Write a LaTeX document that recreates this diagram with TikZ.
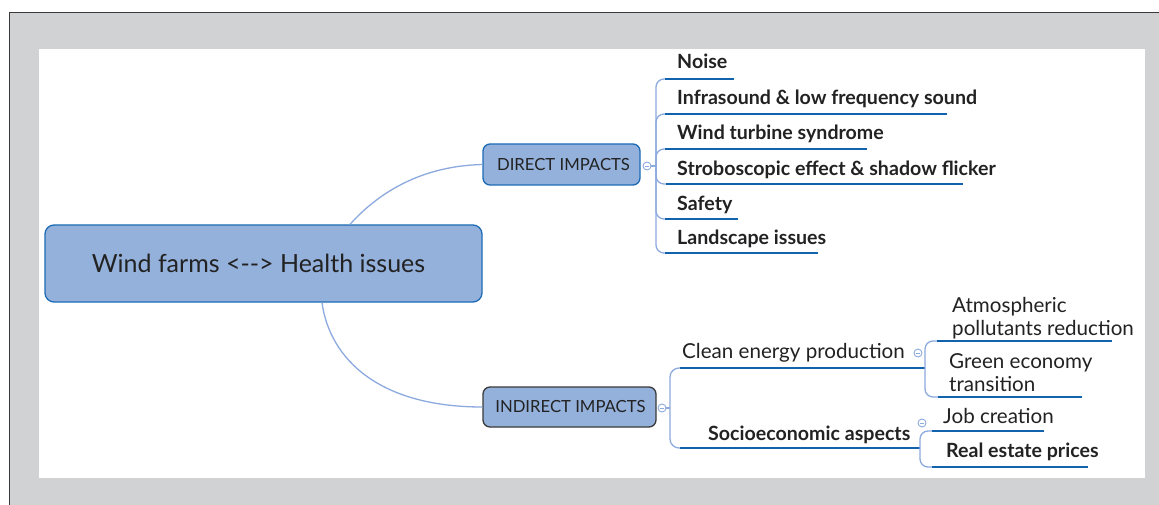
\documentclass[tikz,border=0pt]{standalone}
\usepackage{fontspec}
\setmainfont{Lato}
\usetikzlibrary{calc}
\definecolor{bggray}{HTML}{D1D2D4}
\definecolor{framedark}{HTML}{3A3A3A}
\definecolor{nodefill}{HTML}{94B1DC}
\definecolor{nodeblue}{HTML}{1D6BB5}
\definecolor{conncol}{HTML}{8DAADF}
\definecolor{ulcol}{HTML}{1262AE}
\definecolor{txt}{HTML}{222222}
\tikzset{
  topic/.style={draw=nodeblue, line width=1.3pt, fill=nodefill, rounded corners=7pt, text=txt, inner sep=0pt},
  conn/.style={draw=conncol, line width=1.3pt},
  ul/.style={draw=ulcol, line width=2.8pt},
  lbl/.style={anchor=base west, inner sep=0pt, text=txt, font=\fontsize{20.6}{23}\selectfont},
  blbl/.style={lbl, font=\fontsize{19.6}{23}\selectfont\bfseries},
  tog/.style={circle, draw=conncol, line width=0.9pt, fill=white, minimum size=8pt, inner sep=0pt,
    path picture={\draw[conncol, line width=0.8pt] ([xshift=-2pt]path picture bounding box.center) -- ([xshift=2pt]path picture bounding box.center);}},
}
\begin{document}
\begin{tikzpicture}[x=1pt,y=-1pt]
\useasboundingbox (0,0) rectangle (1159,505);
% frame
\fill[bggray] (9,12) rectangle (1159,505);
\draw[framedark, line width=1.6pt] (9.5,505) -- (9.5,12.5) -- (1159,12.5);
\fill[white] (39,49) rectangle (1145,478);

% main topics
\node[topic, rounded corners=9pt, minimum width=437pt, minimum height=77pt, font=\fontsize{25}{28}\selectfont] (main) at (263.5,263.5) {\raisebox{-3pt}{\hspace*{-10pt}Wind farms <-{}-> Health issues}};
\node[topic, minimum width=157pt, minimum height=41pt, font=\fontsize{16.7}{18}\selectfont] (direct) at (561.5,164.5) {\hspace*{4pt}DIRECT IMPACTS};
\node[topic, draw=framedark, minimum width=173pt, minimum height=40pt, font=\fontsize{16.7}{18}\selectfont] (indirect) at (569.5,407) {\hspace*{2pt}INDIRECT IMPACTS};

% connectors from main
\draw[conn] ([xshift=86.5pt]main.north) .. controls (380,191) and (423,166) .. (direct.west);
\draw[conn] ([xshift=58.5pt]main.south) .. controls (330,360) and (380,407) .. (indirect.west);

% toggles
\node[tog] (dtog) at (647,166) {};
\node[tog] (itog) at (662,408) {};
\node[tog] (ctog) at (918,353) {};
\node[tog] (stog) at (922,423) {};

% direct children
\coordinate (dhub) at (656,166);
\draw[conn] (dtog.east) -- (dhub);
\node[blbl] (noise) at (677,69) {Noise};
\node[blbl] (infra) at (677,105) {Infrasound \& low frequency sound};
\node[blbl] (wts) at (677,140) {Wind turbine syndrome};
\node[blbl] (strobo) at (677,175.5) {Stroboscopic effect \& shadow flicker};
\node[blbl] (safety) at (677,210.5) {Safety};
\node[blbl] (land) at (677,244.5) {Landscape issues};
\coordinate (u1a) at (665,79);  \coordinate (u1b) at (734,79);
\coordinate (u2a) at (665,114); \coordinate (u2b) at (947,114);
\coordinate (u3a) at (665,149); \coordinate (u3b) at (867,149);
\coordinate (u4a) at (666,184); \coordinate (u4b) at (963,184);
\coordinate (u5a) at (665,219); \coordinate (u5b) at (738,219);
\coordinate (u6a) at (665,253); \coordinate (u6b) at (818,253);
\foreach \i in {1,...,6}{
  \draw[conn, rounded corners=8pt] (dhub) |- (u\i a);
  \draw[ul] (u\i a) -- (u\i b);
}

% indirect children
\coordinate (ihub) at (670,408);
\draw[conn] (itog.east) -- (ihub);
\node[lbl] (clean) at (682,358) {Clean energy production};
\node[blbl] (socio) at (708,440) {Socioeconomic aspects};
\coordinate (c1a) at (680,368); \coordinate (c1b) at (925,368);
\coordinate (c2a) at (680,448); \coordinate (c2b) at (920,448);
\foreach \i in {1,2}{
  \draw[conn, rounded corners=9pt] (ihub) |- (c\i a);
  \draw[ul] (c\i a) -- (c\i b);
}

% clean energy children
\node[lbl, align=left] (atmo) at (952,335) {Atmospheric\\pollutants reduction};
\node[lbl, align=left] (green) at (949,391) {Green economy\\transition};
\coordinate (a1a) at (937,341); \coordinate (a1b) at (1112,341);
\coordinate (a2a) at (938,397); \coordinate (a2b) at (1082,397);
\foreach \i in {1,2}{
  \draw[conn, rounded corners=8pt] (c1b) |- (a\i a);
  \draw[ul] (a\i a) -- (a\i b);
}

% socioeconomic children
\node[lbl] (job) at (943,423) {Job creation};
\node[blbl] (real) at (946,457) {Real estate prices};
\coordinate (s1a) at (932,431); \coordinate (s1b) at (1044,431);
\coordinate (s2a) at (932,467); \coordinate (s2b) at (1088,467);
\foreach \i in {1,2}{
  \draw[conn, rounded corners=8pt] (c2b) |- (s\i a);
  \draw[ul] (s\i a) -- (s\i b);
}
\end{tikzpicture}
\end{document}
